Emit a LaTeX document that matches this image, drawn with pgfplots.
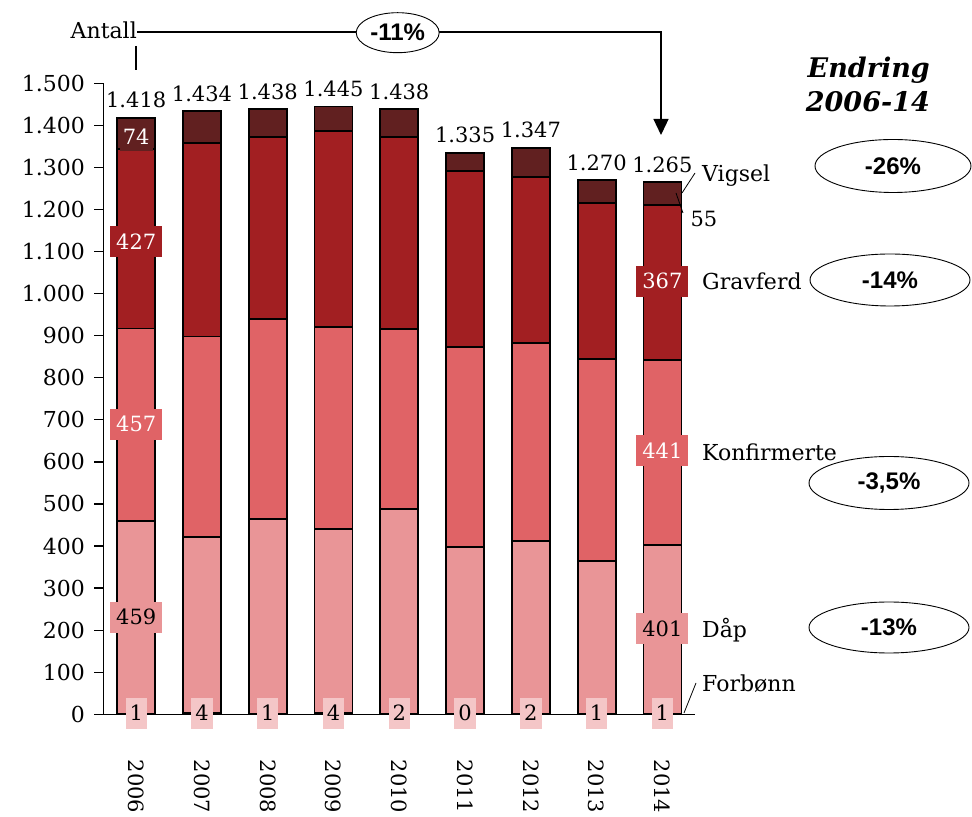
\documentclass[border=0pt]{standalone}
\usepackage{fontspec}
\setmainfont{DejaVu Serif}
\newfontfamily\sansfam{Liberation Sans}
\usepackage{pgfplots}
\usepackage{pgfplotstable}
\pgfplotsset{compat=1.18}
\usetikzlibrary{arrows.meta}
\definecolor{cForb}{HTML}{F4C6C7}
\definecolor{cDap}{HTML}{E99597}
\definecolor{cKonf}{HTML}{E06366}
\definecolor{cGrav}{HTML}{A21F22}
\definecolor{cVig}{HTML}{612020}
\newcommand{\numfont}{\fontsize{21bp}{25bp}\selectfont}
\newcommand{\tickfont}{\fontsize{22bp}{26bp}\selectfont}
\newcommand{\wordfont}{\fontsize{22bp}{26bp}\selectfont}
\newcommand{\pctfont}{\sansfam\bfseries\fontsize{24bp}{28bp}\selectfont}
\newcommand{\titfont}{\bfseries\itshape\fontsize{27bp}{31bp}\selectfont}

% year index, Forbonn, Dap, Konfirmerte, Gravferd, Vigsel
\pgfplotstableread{
x forb dap konf grav vig
0 1 459 457 427 74
1 4 418 476 460 76
2 1 464 475 433 65
3 4 437 480 466 58
4 2 486 428 457 65
5 0 398 476 417 44
6 2 410 471 394 70
7 1 364 479 372 54
8 1 401 441 367 55
}\data

\begin{document}
\begin{tikzpicture}

\begin{axis}[at={(103.3bp,102.7bp)}, anchor=south west, scale only axis,
  width=592bp, height=631bp,
  ybar stacked, bar width=38bp,
  xmin=-0.5, xmax=8.5, ymin=0, ymax=1500,
  axis x line*=bottom, axis y line*=left,
  axis line style={-, line width=1.3bp, black},
  xtick={0,1,2,3,4,5,6,7,8},
  xticklabels={2006,2007,2008,2009,2010,2011,2012,2013,2014},
  xtick style={draw=none},
  ytick={0,100,...,1500}, tick align=outside, major tick length=9bp,
  ytick style={line width=1.3bp, black},
  xticklabel style={font=\numfont, yshift=-33bp, rotate=-90, anchor=west},
  yticklabel style={font=\tickfont, xshift=-6bp, /pgf/number format/1000 sep={.}, /pgf/number format/assume math mode=true},
  clip=false]
\addplot[fill=cForb, draw=black, line width=1.8bp] table[x=x, y=forb] {\data};
\addplot[fill=cDap, draw=black, line width=1.8bp] table[x=x, y=dap] {\data};
\addplot[fill=cKonf, draw=black, line width=1.8bp] table[x=x, y=konf] {\data};
\addplot[fill=cGrav, draw=black, line width=1.8bp] table[x=x, y=grav] {\data};
\addplot[fill=cVig, draw=black, line width=1.8bp] table[x=x, y=vig] {\data};
\end{axis}

% labels overlay
\begin{axis}[at={(103.3bp,102.7bp)}, anchor=south west, scale only axis,
  width=592bp, height=631bp,
  xmin=-0.5, xmax=8.5, ymin=0, ymax=1500, hide axis, clip=false,
  point meta=explicit symbolic]
% totals
\addplot[draw=none, nodes near coords,
  nodes near coords style={anchor=base, yshift=10bp, font=\numfont, inner sep=0pt}]
  table[x=x, y=y, meta=lab] {
x y lab
0 1418 1.418
1 1434 1.434
2 1438 1.438
3 1445 1.445
4 1438 1.438
5 1335 1.335
6 1347 1.347
7 1270 1.270
8 1265 1.265
};
% Forbonn
\addplot[draw=none, nodes near coords,
  nodes near coords style={anchor=center, font=\numfont, fill=cForb, text=black,
   inner xsep=4bp, inner ysep=0pt, minimum height=31bp}]
  table[x=x, y=y, meta=lab] {
x y lab
0 3 1
1 3 4
2 3 1
3 3 4
4 3 2
5 3 0
6 3 2
7 3 1
8 3 1
};
% Dap
\addplot[draw=none, nodes near coords,
  nodes near coords style={anchor=center, font=\numfont, fill=cDap, text=black,
   inner xsep=6bp, inner ysep=0pt, minimum height=31bp}]
  table[x=x, y=y, meta=lab] {
x y lab
0 231 459
8 203 401
};
% Konfirmerte
\addplot[draw=none, nodes near coords,
  nodes near coords style={anchor=center, font=\numfont, fill=cKonf, text=white,
   inner xsep=6bp, inner ysep=0pt, minimum height=31bp}]
  table[x=x, y=y, meta=lab] {
x y lab
0 690 457
8 626 441
};
% Gravferd
\addplot[draw=none, nodes near coords,
  nodes near coords style={anchor=center, font=\numfont, fill=cGrav, text=white,
   inner xsep=6bp, inner ysep=0pt, minimum height=31bp}]
  table[x=x, y=y, meta=lab] {
x y lab
0 1123 427
8 1030 367
};
% Vigsel
\addplot[draw=none, nodes near coords,
  nodes near coords style={anchor=center, font=\numfont, fill=cVig, text=white,
   inner xsep=3bp, inner ysep=0pt, minimum height=28bp}]
  table[x=x, y=y, meta=lab] {
x y lab
0 1372 74
};
\addplot[draw=none, nodes near coords,
  nodes near coords style={anchor=base west, xshift=28bp, font=\numfont, inner sep=0pt}]
  table[x=x, y=y, meta=lab] {
x y lab
8 1160 55
};
\end{axis}

\begin{scope}[x=1bp,y=1bp]
% top annotation
\node[anchor=base east, font=\wordfont, inner sep=0pt] at (137,778) {Antall};
\draw[line width=1.3bp] (136,771) -- (136,747);
\draw[line width=1.3bp, -{Triangle[width=15bp,length=16bp]}] (137,785) -- (661,785) -- (661,682);
\draw[fill=white, line width=0.9bp] (397.7,784.3) ellipse (41.5bp and 20bp);
\node[font=\pctfont] at (397.7,784.3) {-11\%};

% Endring title
\node[anchor=base east, font=\titfont, inner sep=0pt] at (930,739) {Endring};
\node[anchor=base east, font=\titfont, inner sep=0pt] at (930,705) {2006-14};

% series labels
\node[anchor=base west, font=\wordfont, inner sep=0pt] at (702,635) {Vigsel};
\node[anchor=base west, font=\wordfont, inner sep=0pt] at (702,527) {Gravferd};
\node[anchor=base west, font=\wordfont, inner sep=0pt] at (702,356) {Konfirmerte};
\node[anchor=base west, font=\wordfont, inner sep=0pt] at (702,179) {Dåp};
\node[anchor=base west, font=\wordfont, inner sep=0pt] at (702,125) {Forbønn};
\draw[line width=0.8bp] (695,644) -- (682,624);
\draw[line width=0.8bp] (676,624) -- (683,604);
\draw[line width=0.8bp] (696,134) -- (684,104);

% change ellipses
\draw[line width=0.9bp] (893,651) ellipse (78bp and 26.5bp);
\node[font=\pctfont] at (893,651) {-26\%};
\draw[line width=0.9bp] (890,537) ellipse (80bp and 26bp);
\node[font=\pctfont] at (890,537) {-14\%};
\draw[line width=0.9bp] (889,334) ellipse (80bp and 26.5bp);
\node[font=\pctfont] at (889,334) {-3,5\%};
\draw[line width=0.9bp] (889,189.5) ellipse (80bp and 25.5bp);
\node[font=\pctfont] at (889,189.5) {-13\%};

\pgfresetboundingbox
\path[use as bounding box] (0,0) rectangle (972,817);
\end{scope}
\end{tikzpicture}
\end{document}
